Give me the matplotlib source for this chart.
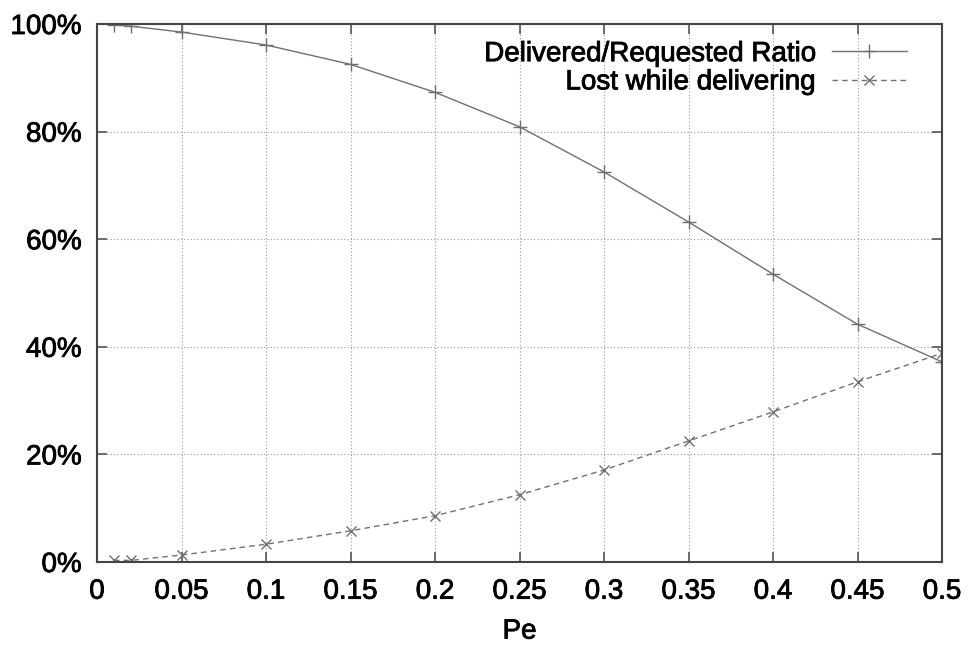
import numpy as np
import matplotlib.pyplot as plt
import matplotlib.patheffects as pe_fx
from matplotlib.ticker import FuncFormatter

pe = [0.01, 0.02, 0.05, 0.1, 0.15, 0.2, 0.25, 0.3, 0.35, 0.4, 0.45, 0.5]
delivered = [99.8, 99.6, 98.5, 96.1, 92.5, 87.3, 80.9, 72.5, 63.2, 53.5, 44.2, 37.2]
lost = [0.3, 0.3, 1.3, 3.3, 5.8, 8.6, 12.5, 17.1, 22.5, 27.9, 33.5, 38.8]

plt.rcParams['font.family'] = ['Liberation Sans', 'DejaVu Sans']
thick = [pe_fx.withStroke(linewidth=0.6, foreground='black')]

fig = plt.figure(figsize=(9.71, 6.48), dpi=100)
ax = fig.add_axes([97 / 971, 1 - 562 / 648, 845 / 971, 538 / 648])

ax.plot(pe, delivered, color='#707070', lw=1.0, marker='+', ms=10, mew=1.0,
        label='Delivered/Requested Ratio')
ax.plot(pe, lost, color='#707070', lw=1.0, ls=(0, (4, 3)), marker='x', ms=7, mew=1.0,
        label='Lost while delivering')

ax.set_xlim(0, 0.5)
ax.set_ylim(0, 100)
ax.set_xticks(np.arange(0, 0.501, 0.05))
ax.set_yticks(np.arange(0, 101, 20))
ax.xaxis.set_major_formatter(FuncFormatter(lambda v, p: f'{v:g}'))
ax.yaxis.set_major_formatter(FuncFormatter(lambda v, p: f'{v:.0f}%'))
ax.tick_params(direction='in', top=True, right=True, length=7, width=1.2,
               labelsize=20, color='#555555')
ax.tick_params(axis='x', pad=12)
ax.tick_params(axis='y', pad=11)
for t in ax.get_xticklabels() + ax.get_yticklabels():
    t.set_path_effects(thick)
ax.grid(True, ls=(0, (1, 2)), color='#999999', lw=0.8)
for s in ax.spines.values():
    s.set_color('#444444')
    s.set_linewidth(1.5)

xl = ax.set_xlabel('Pe', fontsize=20, labelpad=10)
xl.set_path_effects(thick)

leg = ax.legend(loc='upper right', frameon=False, markerfirst=False, fontsize=20,
                handlelength=2.7, handletextpad=0.6, labelspacing=0.08,
                borderaxespad=0.0, bbox_to_anchor=(1 - 24 / 845, 1 - 6 / 538))
for t in leg.get_texts():
    t.set_path_effects(thick)

plt.savefig('out.png', dpi=100)
plt.close()
